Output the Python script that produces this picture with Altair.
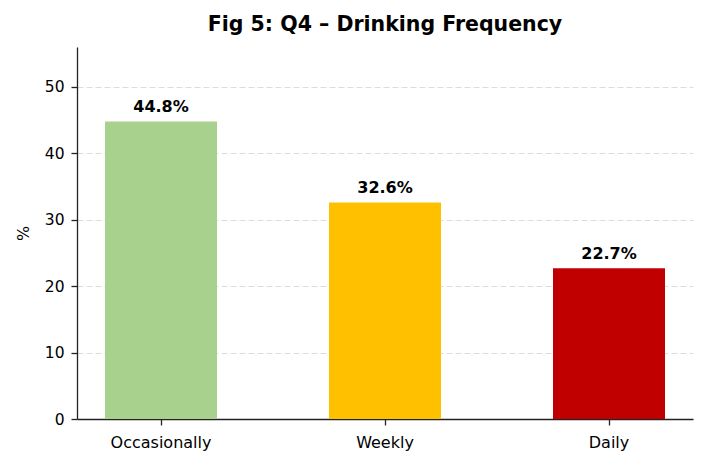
import altair as alt
import pandas as pd

categories = ["Occasionally", "Weekly", "Daily"]
values = [44.8, 32.6, 22.7]
labels = ["44.8%", "32.6%", "22.7%"]
colors = ["#a9d18e", "#ffc000", "#c00000"]

df = pd.DataFrame({"cat": categories, "val": values, "lab": labels})

FONT = "DejaVu Sans"

x = alt.X("cat:N", sort=categories, title=None,
          scale=alt.Scale(paddingInner=0.5, paddingOuter=0.125),
          axis=alt.Axis(labelAngle=0, labelFontSize=16, labelFont=FONT, labelColor="#000",
                        tickSize=6, labelPadding=9, domainColor="#222", tickColor="#222",
                        grid=False))
y = alt.Y("val:Q", title="%",
          scale=alt.Scale(domain=[0, 56], nice=False, zero=True),
          axis=alt.Axis(values=[0, 10, 20, 30, 40, 50], labelFontSize=15.5, labelFont=FONT,
                        labelColor="#000", tickSize=6, labelPadding=7,
                        domainColor="#222", tickColor="#222",
                        grid=True, gridColor="#dcdcdc", gridDash=[6, 3], gridWidth=1,
                        titleFont=FONT, titleFontSize=16, titleFontWeight="normal",
                        titleColor="#000", titlePadding=13))

bars = alt.Chart(df).mark_bar().encode(
    x=x, y=y,
    color=alt.Color("cat:N", sort=categories,
                    scale=alt.Scale(domain=categories, range=colors), legend=None),
)
text = alt.Chart(df).mark_text(baseline="bottom", dy=-6, font=FONT, fontSize=16,
                               fontWeight="bold", color="#000").encode(
    x=alt.X("cat:N", sort=categories), y="val:Q", text="lab:N")

chart = (bars + text).properties(
    width=616, height=372,
    title=alt.TitleParams("Fig 5: Q4 – Drinking Frequency", font=FONT, fontSize=20.5,
                          fontWeight="bold", color="#000", anchor="middle", offset=12),
    autosize=alt.AutoSizeParams(type="none"),
    padding={"left": 69, "top": 39, "right": 6, "bottom": 40},
).configure_view(stroke=None).configure_axis(domainWidth=1.3, tickWidth=1.3)

chart.save("out.html", embed_options={"renderer": "svg", "actions": False})
